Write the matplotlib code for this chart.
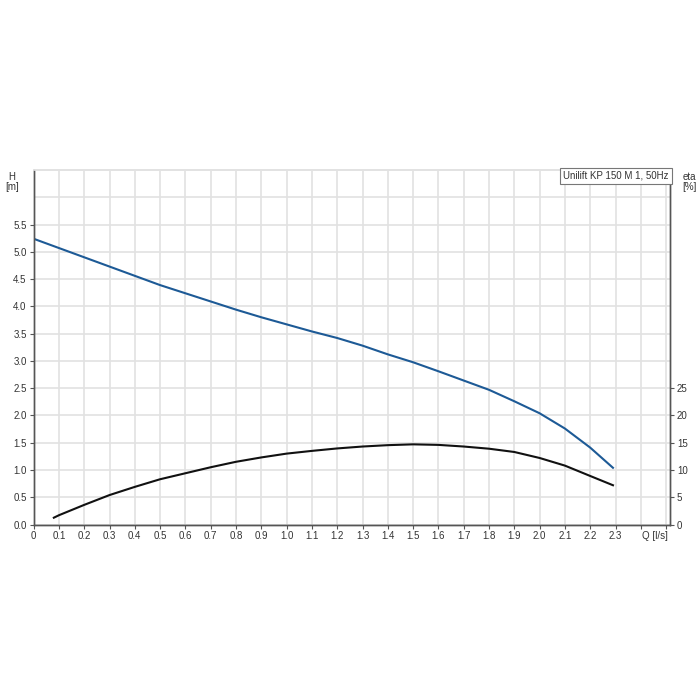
"""Pump curve: Unilift KP 150 M 1, 50Hz."""

import matplotlib
matplotlib.use("Agg")
import matplotlib.pyplot as plt

plt.rcParams["font.family"] = ["Liberation Sans", "DejaVu Sans"]

# head curve H [m] vs Q [l/s]
q_head = [0.0, 0.1, 0.2, 0.3, 0.4, 0.5, 0.6, 0.7, 0.8, 0.9, 1.0, 1.1, 1.2,
          1.3, 1.4, 1.5, 1.6, 1.7, 1.8, 1.9, 2.0, 2.1, 2.2, 2.29]
head = [5.24, 5.07, 4.90, 4.73, 4.56, 4.39, 4.24, 4.09, 3.94, 3.80, 3.67, 3.54, 3.42,
        3.28, 3.12, 2.975, 2.81, 2.64, 2.47, 2.26, 2.04, 1.76, 1.41, 1.04]

# efficiency curve eta [%] vs Q [l/s]
q_eta = [0.08, 0.1, 0.2, 0.3, 0.4, 0.5, 0.6, 0.7, 0.8, 0.9, 1.0, 1.1, 1.2,
         1.3, 1.4, 1.5, 1.6, 1.7, 1.8, 1.9, 2.0, 2.1, 2.2, 2.29]
eta = [1.25, 1.7, 3.6, 5.4, 6.9, 8.3, 9.4, 10.5, 11.5, 12.3, 13.0, 13.5, 13.95,
       14.3, 14.55, 14.7, 14.6, 14.3, 13.9, 13.3, 12.2, 10.8, 8.9, 7.2]

x_ticks = [round(0.1 * i, 1) for i in range(26)]
x_labels = ["0"] + [f"{t:.1f}" for t in x_ticks[1:24]] + ["", ""]
h_ticks = [0.5 * i for i in range(12)]
h_labels = [f"{t:.1f}" for t in h_ticks]
h_grid_extra = [6.0, 6.5]
eta_ticks = [0, 5, 10, 15, 20, 25]

TEXT = "#333333"
GRID = "#e2e2e2"
SPINE = "#555555"
BLUE = "#1d5a96"

fig = plt.figure(figsize=(7, 7), dpi=100)
ax = fig.add_axes([0.048, 0.2507, 0.909, 0.5064])
ax2 = ax.twinx()

ax.set_xlim(0, 2.515)
ax.set_ylim(0, 6.5)
ax2.set_ylim(0, 65)

ax.set_xticks(x_ticks)
ax.set_xticklabels(x_labels)
ax.set_yticks(h_ticks)
ax.set_yticklabels(h_labels)
ax.set_yticks(h_grid_extra, minor=True)
ax.tick_params(axis="y", which="minor", length=0)
ax2.set_yticks(eta_ticks)
ax2.set_yticklabels([str(t) for t in eta_ticks])

ax.grid(True, which="both", color=GRID, linewidth=1.2)
ax.set_axisbelow(True)
for a in (ax, ax2):
    a.tick_params(labelsize=7, colors=SPINE, labelcolor=TEXT, length=3, width=0.8, pad=2)
    a.spines["top"].set_color(GRID)
    a.spines["top"].set_linewidth(1.2)
    for s in ("left", "right", "bottom"):
        a.spines[s].set_color(SPINE)
        a.spines[s].set_linewidth(1.0)

ax.plot(q_head, head, color=BLUE, linewidth=1.5, solid_joinstyle="round")
ax2.plot(q_eta, eta, color="#111111", linewidth=1.5, solid_joinstyle="round")

# axis titles placed like the original
fig.text(12 / 700, 1 - 177 / 700, "H", ha="center", va="center", fontsize=7, color=TEXT)
fig.text(12 / 700, 1 - 187 / 700, "[m]", ha="center", va="center", fontsize=7, color=TEXT)
fig.text(689 / 700, 1 - 177 / 700, "eta", ha="center", va="center", fontsize=7, color=TEXT)
fig.text(689 / 700, 1 - 187 / 700, "[%]", ha="center", va="center", fontsize=7, color=TEXT)
ax.text(2.455, -0.017, "Q [l/s]", ha="center", va="top", fontsize=7, color=TEXT,
        transform=ax.get_xaxis_transform())

ax2.text(0.998, 0.998, "Unilift KP 150 M 1, 50Hz", transform=ax2.transAxes,
         ha="right", va="top", fontsize=7, color=TEXT,
         bbox=dict(boxstyle="square,pad=0.3", facecolor="white", edgecolor="#777777", linewidth=0.8))

fig.savefig("out.png", dpi=100, facecolor="white")
